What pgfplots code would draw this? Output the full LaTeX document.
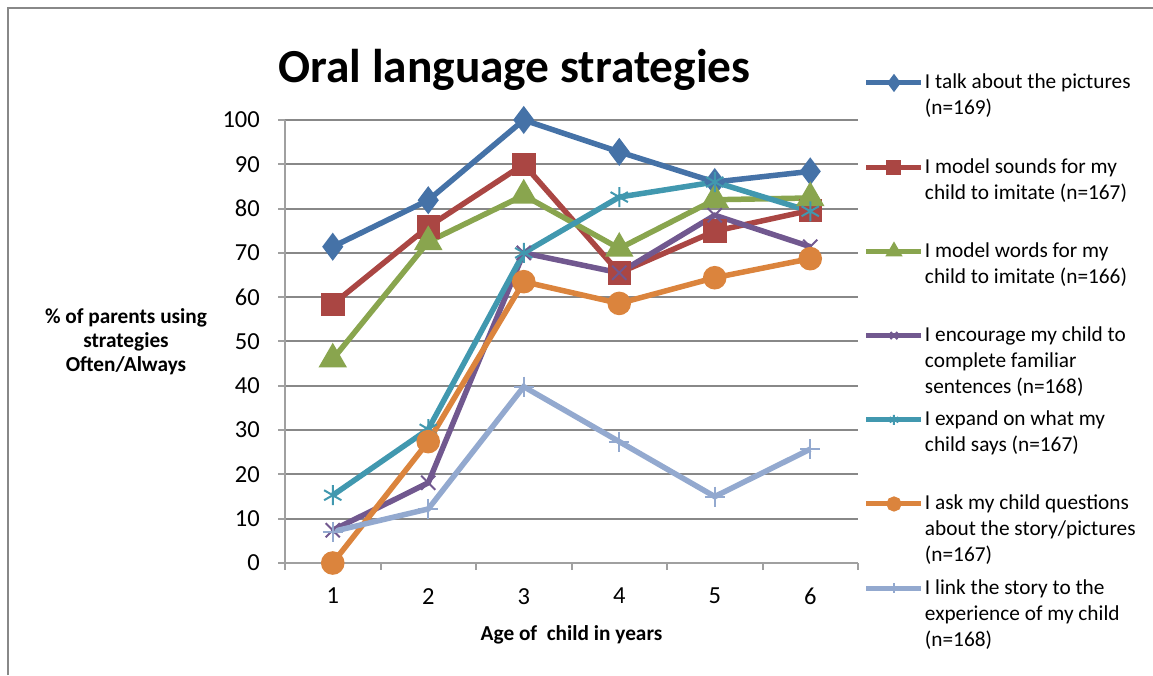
\documentclass[border=0pt]{standalone}
\usepackage{fontspec}
\setmainfont{Carlito}
\usepackage{pgfplots}
\pgfplotsset{compat=1.18}

\definecolor{cBlue}{HTML}{4572A7}
\definecolor{cRed}{HTML}{AA4643}
\definecolor{cGreen}{HTML}{89A54E}
\definecolor{cPurple}{HTML}{71588F}
\definecolor{cTeal}{HTML}{4198AF}
\definecolor{cOrange}{HTML}{DB843D}
\definecolor{cLight}{HTML}{93A9CF}
\definecolor{gridgray}{HTML}{888888}
\definecolor{axisgray}{HTML}{A0A0A0}

\newcommand{\LE}[1]{\parbox[b][82.7pt][t]{235pt}{\raggedright\strut #1}}

\begin{document}
\begin{tikzpicture}[x=1pt,y=1pt]
\path[use as bounding box] (0,0) rectangle (1153,675);
\draw[color=gridgray, line width=2pt] (8,0) -- (8,667) -- (1153,667);
\node[anchor=base, font=\fontsize{47.4}{56}\selectfont\bfseries] at (514.5,592) {Oral language strategies};
\begin{axis}[
  at={(285pt,112pt)}, anchor=south west,
  scale only axis, width=573pt, height=443pt,
  xmin=0.5, xmax=6.5, ymin=0, ymax=100,
  axis lines*=left,
  axis line style={color=axisgray, line width=2pt},
  xtick={1,2,3,4,5,6},
  minor xtick={0.5,1.5,2.5,3.5,4.5,5.5,6.5},
  ytick={0,10,...,100},
  tick align=outside,
  major tick length=7pt, minor tick length=7pt,
  x tick style={draw=none},
  minor x tick style={draw=axisgray, line width=2pt},
  y tick style={color=axisgray, line width=2pt},
  ymajorgrids=true,
  major grid style={color=gridgray, line width=2pt},
  /pgf/number format/assume math mode=true,
  ticklabel style={font=\fontsize{24.5}{29}\selectfont, inner sep=0pt},
  yticklabel style={anchor=east, xshift=-18pt},
  xticklabel style={anchor=north, yshift=-18pt},
  xlabel={Age of\ \ child in years},
  every axis x label/.style={at={(axis description cs:0.5,0)}, anchor=center, yshift=-72pt,
    font=\fontsize{21.3}{26}\selectfont\bfseries},
  ylabel={\% of parents using\\strategies\\Often/Always},
  every axis y label/.style={at={(axis description cs:-0.2775,0.5)}, anchor=center, align=center,
    font=\fontsize{21.3}{24}\selectfont\bfseries},
  clip=false,
  every axis plot/.append style={line width=5.5pt},
  legend style={at={(axis description cs:1.01047,1.1111)}, anchor=north west,
    draw=none, fill=none, inner sep=0pt, outer sep=0pt, row sep=0pt, column sep=1pt,
    font=\fontsize{21.3}{26}\selectfont,
    nodes={inner sep=0pt, outer sep=0pt},
    cells={anchor=base west}},
  legend image code/.code={\draw[#1, mark repeat=2, mark phase=2, line width=5pt, mark size=5pt]
     plot coordinates {(0pt,70.5pt) (27.5pt,70.5pt) (55pt,70.5pt)};},
]
\addplot[color=cBlue, mark=diamond*, mark size=9.5pt, mark options={solid}]
  coordinates {(1,71.4) (2,81.9) (3,100) (4,92.8) (5,86.0) (6,88.4)};
\addlegendentry{\LE{I talk about the pictures\\(n=169)}}
\addplot[color=cRed, mark=square*, mark size=9pt, mark options={solid}]
  coordinates {(1,58.4) (2,75.9) (3,90.0) (4,65.5) (5,74.9) (6,79.6)};
\addlegendentry{\LE{I model sounds for my\\child to imitate (n=167)}}
\addplot[color=cGreen, mark=triangle*, mark size=11pt, mark options={solid}]
  coordinates {(1,46.0) (2,72.5) (3,83.0) (4,71.0) (5,82.0) (6,82.4)};
\addlegendentry{\LE{I model words for my\\child to imitate (n=166)}}
\addplot[color=cPurple, mark=x, mark size=10pt, mark options={solid, line width=2pt}]
  coordinates {(1,7.4) (2,18.1) (3,70.0) (4,65.5) (5,78.5) (6,71.4)};
\addlegendentry{\LE{I encourage my child to\\complete familiar\\sentences (n=168)}}
\addplot[color=cTeal, mark=asterisk, mark size=10pt, mark options={solid, line width=2pt}]
  coordinates {(1,15.3) (2,30.2) (3,70.0) (4,82.6) (5,86.0) (6,79.4)};
\addlegendentry{\LE{I expand on what my\\child says (n=167)}}
\addplot[color=cOrange, mark=*, mark size=9pt, mark options={solid}]
  coordinates {(1,0) (2,27.4) (3,63.5) (4,58.6) (5,64.4) (6,68.7)};
\addlegendentry{\LE{I ask my child questions\\about the story/pictures\\(n=167)}}
\addplot[color=cLight, mark=+, mark size=10pt, mark options={solid, line width=2pt}]
  coordinates {(1,7.1) (2,12.2) (3,39.8) (4,27.4) (5,15.0) (6,25.7)};
\addlegendentry{\LE{I link the story to the\\experience of my child\\(n=168)}}
\end{axis}
\end{tikzpicture}
\end{document}
